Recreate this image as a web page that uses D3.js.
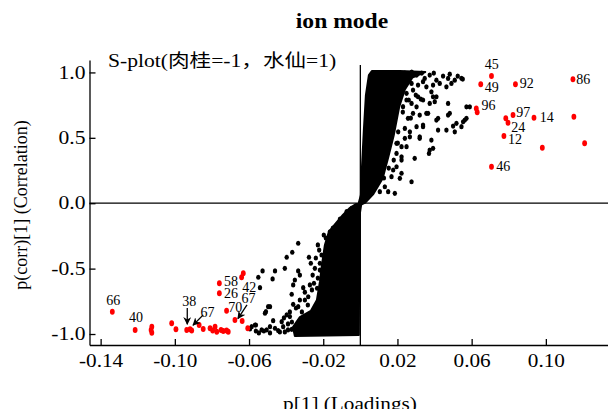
<!DOCTYPE html>
<html>
<head>
<meta charset="utf-8">
<script src="https://cdn.jsdelivr.net/npm/d3@7"></script>
<style>
  body { margin: 0; background: #fff; }
  svg { display: block; }
  text { font-family: "Liberation Serif", "Times New Roman", "Noto Sans CJK SC", serif; fill: #000; }
  /* the source figure is stretched sideways, so its lettering is wider than normal */
  .wide { transform-box: fill-box; transform-origin: center; transform: scaleX(1.18); }
  .wide-left { transform-box: fill-box; transform-origin: 0% 50%; transform: scaleX(1.2); }
</style>
</head>
<body>
<svg id="chart" width="608" height="409"></svg>
<script>
// ---------------------------------------------------------------------------
// S-plot, ion mode: loadings p[1] vs correlation p(corr)[1]
// ---------------------------------------------------------------------------

const xTicks = [-0.14, -0.10, -0.06, -0.02, 0.02, 0.06, 0.10];
const yTicks = [-1.0, -0.5, 0.0, 0.5, 1.0];

// dense core of the S (thousands of overlapping variables), outlined
const upperCore = [
    [-0.0013, -0.021], [0.0003, 0.063], [0.0008, 0.254], [0.0019, 0.560],
    [0.0030, 0.827], [0.0046, 0.980], [0.0062, 1.010], [0.0213, 1.010],
    [0.0350, 1.003], [0.0280, 0.960], [0.0240, 0.870], [0.0210, 0.740],
    [0.0180, 0.520], [0.0150, 0.350], [0.0120, 0.190], [0.0070, 0.070],
    [0.0024, 0.002]
];
const lowerCore = [
    [0.0005, -0.006], [-0.0005, -0.100], [-0.0008, -1.007],
    [-0.0353, -1.015], [-0.0363, -0.946], [-0.0326, -0.870], [-0.0267, -0.824],
    [-0.0234, -0.740], [-0.0218, -0.602], [-0.0207, -0.472], [-0.0191, -0.319],
    [-0.0170, -0.220], [-0.0127, -0.144], [-0.0094, -0.090], [-0.0057, -0.037],
    [-0.0024, -0.006]
];

// scattered black variables outside the core
const blackUpper = [
    [0.0267, 0.967], [0.0303, 0.980], [0.0347, 0.954], [0.0374, 0.980], [0.0410, 0.941],
    [0.0446, 0.972], [0.0473, 0.954], [0.0509, 0.941], [0.0428, 0.916], [0.0311, 0.903],
    [0.0356, 0.890], [0.0284, 0.865], [0.0249, 0.840], [0.0299, 0.827], [0.0383, 0.852],
    [0.0473, 0.763], [0.0572, 0.737], [0.0303, 0.737], [0.0365, 0.687], [0.0419, 0.649],
    [0.0473, 0.674], [0.0518, 0.611], [0.0554, 0.623], [0.0464, 0.559], [0.0509, 0.546],
    [0.0419, 0.559], [0.0338, 0.598], [0.0303, 0.585], [0.0240, 0.572], [0.0204, 0.546],
    [0.0267, 0.508], [0.0320, 0.508], [0.0249, 0.432], [0.0374, 0.407], [0.0392, 0.420],
    [0.0222, 0.355], [0.0293, 0.343], [0.0195, 0.279], [0.0222, 0.229], [0.0276, 0.164],
    [0.0168, 0.203], [0.0132, 0.126], [0.0105, 0.088], [0.0572, 0.649], [0.0392, 0.814],
    [0.0401, 0.776], [0.0482, 0.687], [0.0590, 0.737], [0.0563, 0.636], [0.0545, 0.585],
    [0.0500, 0.590], [0.0410, 0.636], [0.0356, 0.687], [0.0338, 0.585], [0.0383, 0.483],
    [0.0370, 0.381], [0.0320, 0.496], [0.0240, 0.995], [0.0277, 1.003], [0.0331, 0.995],
    [0.0396, 0.995], [0.0482, 0.987], [0.0525, 0.972], [0.0552, 0.949], [0.0207, 0.941],
    [0.0235, 0.896], [0.0186, 0.789], [0.0170, 0.636], [0.0148, 0.407], [0.0229, 0.697],
    [0.0272, 0.651], [0.0261, 0.789], [0.0326, 0.796], [0.0202, 0.460], [0.0180, 0.330],
    [0.0153, 0.269], [0.0127, 0.193],
    [0.0195, 0.458], [0.0222, 0.432], [0.0240, 0.496], [0.0267, 0.546], [0.0195, 0.381],
    [0.0222, 0.330], [0.0177, 0.254], [0.0213, 0.190], [0.0150, 0.088], [0.0186, 0.076],
    [0.0249, 0.789], [0.0276, 0.763], [0.0230, 0.738], [0.0284, 0.687], [0.0257, 0.649],
    [0.0320, 0.674], [0.0311, 0.814], [0.0338, 0.789], [0.0374, 0.763], [0.0410, 0.814],
    [0.0222, 0.890], [0.0276, 0.916], [0.0338, 0.929], [0.0392, 0.903], [0.0464, 0.890],
    [0.0491, 0.916], [0.0545, 0.955]
];
const blackLower = [
    [-0.0335, -0.306], [-0.0367, -0.375], [-0.0397, -0.413], [-0.0277, -0.413], [-0.0267, -0.459],
    [-0.0460, -0.518], [-0.0527, -0.518], [-0.0407, -0.498], [-0.0550, -0.566], [-0.0473, -0.579],
    [-0.0335, -0.518], [-0.0326, -0.549], [-0.0353, -0.587], [-0.0362, -0.625], [-0.0308, -0.646],
    [-0.0272, -0.625], [-0.0541, -0.646], [-0.0370, -0.696], [-0.0281, -0.715], [-0.0362, -0.773],
    [-0.0335, -0.791], [-0.0487, -0.791], [-0.0509, -0.829], [-0.0397, -0.854], [-0.0380, -0.867],
    [-0.0470, -0.898], [-0.0424, -0.906], [-0.0586, -0.944], [-0.0563, -0.931], [-0.0487, -0.944],
    [-0.0460, -0.956], [-0.0416, -0.944], [-0.0370, -0.964], [-0.0532, -0.969], [-0.0505, -0.969],
    [-0.0443, -0.974], [-0.0222, -0.358], [-0.0209, -0.396], [-0.0218, -0.459], [-0.0245, -0.498],
    [-0.0257, -0.549], [-0.0250, -0.612], [-0.0233, -0.650], [-0.0568, -0.931], [-0.0514, -0.841],
    [-0.0497, -0.791], [-0.0074, -0.065], [-0.0047, -0.039], [-0.0164, -0.218], [-0.0173, -0.281],
    [-0.0128, -0.268], [-0.0197, -0.243], [-0.0229, -0.319], [-0.0299, -0.740], [-0.0315, -0.831],
    [-0.0407, -0.984], [-0.0390, -0.923], [-0.0547, -0.992], [-0.0595, -0.961],
    [-0.0299, -0.680], [-0.0326, -0.740], [-0.0347, -0.801], [-0.0283, -0.778], [-0.0380, -0.831],
    [-0.0412, -0.877], [-0.0369, -0.908], [-0.0261, -0.663], [-0.0229, -0.572], [-0.0218, -0.511],
    [-0.0240, -0.419], [-0.0186, -0.266], [-0.0148, -0.190], [-0.0110, -0.121], [-0.0272, -0.877],
    [-0.0310, -0.908], [-0.0390, -0.969], [-0.0434, -0.984], [-0.0487, -0.992], [-0.0520, -0.977],
    [-0.0563, -0.977]
];

// highlighted (red) variables
const redPoints = [
    [0.0707, 0.972], [0.0649, 0.909], [0.0836, 0.909], [0.1146, 0.947], [0.0625, 0.725],
    [0.0630, 0.695], [0.0823, 0.674], [0.0784, 0.649], [0.0796, 0.615], [0.0936, 0.653],
    [0.1151, 0.661], [0.0774, 0.514], [0.0981, 0.424], [0.1209, 0.458], [0.0707, 0.279],
    [-0.1337, -0.829], [-0.1214, -0.969], [-0.1124, -0.944], [-0.1128, -0.969], [-0.1124, -0.990],
    [-0.1017, -0.918], [-0.0994, -0.964], [-0.0936, -0.969], [-0.0918, -0.964], [-0.0909, -0.974],
    [-0.0869, -0.931], [-0.0847, -0.961], [-0.0810, -0.956], [-0.0796, -0.974], [-0.0783, -0.944],
    [-0.0774, -0.982], [-0.0751, -0.969], [-0.0739, -0.977], [-0.0721, -0.974], [-0.0712, -0.982],
    [-0.0760, -0.612], [-0.0760, -0.689], [-0.0721, -0.822], [-0.0640, -0.566], [-0.0631, -0.536],
    [-0.0676, -0.893], [-0.0637, -0.900], [-0.0607, -0.956]
];

// variable numbers (label anchor = left end of baseline)
const labelText = ['45', '49', '92', '86', '96', '97', '24', '14', '12', '46',
                   '66', '40', '38', '67', '58', '26', '42', '67', '70'];
const labelX = [0.0670, 0.0670, 0.0859, 0.1164, 0.0653, 0.0841, 0.0814, 0.0967, 0.0796, 0.0733,
                -0.1370, -0.1247, -0.0960, -0.0861, -0.0735, -0.0735, -0.0637, -0.0640, -0.0712];
const labelY = [1.023, 0.852, 0.878, 0.911, 0.712, 0.661, 0.546, 0.623, 0.450, 0.246,
                -0.778, -0.910, -0.786, -0.867, -0.633, -0.727, -0.676, -0.760, -0.829];

// pointer arrows [x1, y1, x2, y2]
const arrows = [
    [-0.0933, -0.801, -0.0933, -0.925],
    [-0.0847, -0.854, -0.0902, -0.933],
    [-0.0611, -0.778, -0.0660, -0.882]
];

const svg = d3.select('#chart');
const W = 608;

const x = d3.scaleLinear().domain([-0.146, 0.1335]).range([89.5, 608]);
const y = d3.scaleLinear().domain([-1.084, 1.095]).range([345, 60]);

// Title + inner caption
svg.append('text')
    .attr('class', 'wide')
    .attr('x', 342).attr('y', 28)
    .attr('text-anchor', 'middle')
    .style('font-size', '20px').style('font-weight', 'bold')
    .text('ion mode');

svg.append('text')
    .attr('class', 'wide-left')
    .attr('x', 108).attr('y', 67)
    .style('font-size', '18px')
    .text('S-plot(肉桂=-1，水仙=1)');

// Reference lines at 0
svg.append('line')
    .attr('x1', x(0)).attr('x2', x(0))
    .attr('y1', 65).attr('y2', 345)
    .attr('stroke', '#000').attr('stroke-width', 1.3);
svg.append('line')
    .attr('x1', 89.5).attr('x2', W)
    .attr('y1', y(0)).attr('y2', y(0))
    .attr('stroke', '#000').attr('stroke-width', 1.3);

// Dense core
const area = d3.line().x(d => x(d[0])).y(d => y(d[1])).curve(d3.curveLinearClosed);
svg.selectAll('.core')
    .data([upperCore, lowerCore])
    .join('path')
    .attr('class', 'core')
    .attr('d', area)
    .attr('fill', '#000')
    .attr('stroke', '#000')
    .attr('stroke-width', 2)
    .attr('stroke-linejoin', 'round');

// Scattered black variables
svg.selectAll('.blk')
    .data(blackUpper.concat(blackLower))
    .join('ellipse')
    .attr('class', 'blk')
    .attr('cx', d => x(d[0]))
    .attr('cy', d => y(d[1]))
    .attr('rx', 2.2).attr('ry', 2.6)
    .attr('fill', '#000');

// Red variables
svg.selectAll('.red')
    .data(redPoints)
    .join('ellipse')
    .attr('class', 'red')
    .attr('cx', d => x(d[0]))
    .attr('cy', d => y(d[1]))
    .attr('rx', 2.4).attr('ry', 3)
    .attr('fill', '#ff0000');

// Labels
svg.selectAll('.lbl')
    .data(labelText)
    .join('text')
    .attr('class', 'lbl')
    .attr('x', (d, i) => x(labelX[i]))
    .attr('y', (d, i) => y(labelY[i]))
    .style('font-size', '14px')
    .text(d => d);

// Arrows
svg.append('defs').append('marker')
    .attr('id', 'head')
    .attr('viewBox', '0 0 10 10')
    .attr('refX', 9).attr('refY', 5)
    .attr('markerWidth', 8).attr('markerHeight', 8)
    .attr('markerUnits', 'userSpaceOnUse')
    .attr('orient', 'auto')
    .append('path')
    .attr('d', 'M0,0 L10,5 L0,10 L3,5 Z')
    .attr('fill', '#000');

svg.selectAll('.arr')
    .data(arrows)
    .join('line')
    .attr('class', 'arr')
    .attr('x1', d => x(d[0])).attr('y1', d => y(d[1]))
    .attr('x2', d => x(d[2])).attr('y2', d => y(d[3]))
    .attr('stroke', '#000').attr('stroke-width', 1.3)
    .attr('marker-end', 'url(#head)');

// Axes
const xAxis = svg.append('g')
    .attr('transform', 'translate(0,345)')
    .call(d3.axisBottom(x).tickValues(xTicks).tickSizeInner(-6).tickSizeOuter(0)
        .tickPadding(9).tickFormat(d => d.toFixed(2)));
const yAxis = svg.append('g')
    .attr('transform', 'translate(89.5,0)')
    .call(d3.axisLeft(y).tickValues(yTicks).tickSizeInner(-6).tickSizeOuter(0)
        .tickPadding(4).tickFormat(d => d.toFixed(1)));

[xAxis, yAxis].forEach(a => {
    a.selectAll('path, line').attr('stroke', '#000').attr('stroke-width', 1.3);
    a.selectAll('text')
        .style('font-family', '"Liberation Serif", "Times New Roman", serif')
        .style('font-size', '18px');
});
xAxis.selectAll('text').attr('class', 'wide');
// right-aligned y labels: grow leftwards from the axis side
yAxis.selectAll('text')
    .style('transform-box', 'fill-box')
    .style('transform-origin', '100% 50%')
    .style('transform', 'scaleX(1.2)');

// Axis titles
svg.append('text')
    .attr('class', 'wide')
    .attr('x', 350).attr('y', 410)
    .attr('text-anchor', 'middle')
    .style('font-size', '18px')
    .text('p[1] (Loadings)');

svg.append('text')
    .attr('transform', 'translate(27,205) rotate(-90)')
    .attr('text-anchor', 'middle')
    .style('font-size', '18px')
    .text('p(corr)[1] (Correlation)');
</script>
</body>
</html>
